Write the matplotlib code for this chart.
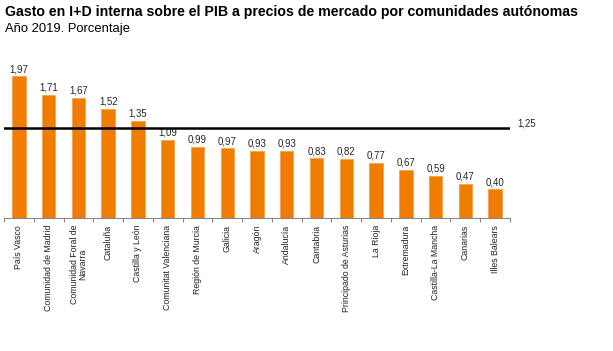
import numpy as np
import matplotlib.pyplot as plt

plt.rcParams['font.family'] = ['Liberation Sans', 'DejaVu Sans']

regions = ["País Vasco", "Comunidad de Madrid", "Comunidad Foral de\nNavarra", "Cataluña",
           "Castilla y León", "Comunitat Valenciana", "Región de Murcia", "Galicia",
           "Aragón", "Andalucía", "Cantabria", "Principado de Asturias", "La Rioja",
           "Extremadura", "Castilla-La Mancha", "Canarias", "Illes Balears"]
values = [1.97, 1.71, 1.67, 1.52, 1.35, 1.09, 0.99, 0.97, 0.93, 0.93,
          0.83, 0.82, 0.77, 0.67, 0.59, 0.47, 0.40]
spain_total = 1.25

fig = plt.figure(figsize=(6.13, 3.51), dpi=100)
ax = fig.add_axes([0.0065, 0.379, 0.8255, 0.451])

x = np.arange(len(regions))
ax.bar(x, values, width=0.45, color="#F07D00", edgecolor="#F5A24A", linewidth=0.6, zorder=2)
for xi, v in zip(x, values):
    ax.text(xi, v + 0.03, f"{v:.2f}".replace(".", ","), ha="center", va="bottom",
            fontsize=6.9, color="#222222")

ax.axhline(spain_total, color="black", linewidth=1.8, zorder=3)
ax.text(1.015, spain_total, f"{spain_total:.2f}".replace(".", ","), transform=ax.get_yaxis_transform(),
        ha="left", va="bottom", fontsize=6.9, color="#222222")

ax.set_xlim(-0.5, len(regions) - 0.5)
ax.set_ylim(0, 2.2)
ax.set_xticks(x)
ax.set_xticklabels(regions, rotation=90, fontsize=6.3, va="top", ha="center",
                   linespacing=0.95, color="#222222")
ax.tick_params(axis="x", which="major", length=0, pad=5)
ax.set_xticks(np.arange(len(regions) + 1) - 0.5, minor=True)
ax.tick_params(axis="x", which="minor", length=3, color="#888888", width=0.8)
ax.set_yticks([])
for s in ["top", "right", "left"]:
    ax.spines[s].set_visible(False)
ax.spines["bottom"].set_color("#888888")
ax.spines["bottom"].set_linewidth(0.8)

fig.text(0.008, 0.985, "Gasto en I+D interna sobre el PIB a precios de mercado por comunidades autónomas",
         fontsize=10.2, fontweight="bold", ha="left", va="top")
fig.text(0.008, 0.935, "Año 2019. Porcentaje", fontsize=9.4, ha="left", va="top")

fig.savefig("out.png", dpi=100)
